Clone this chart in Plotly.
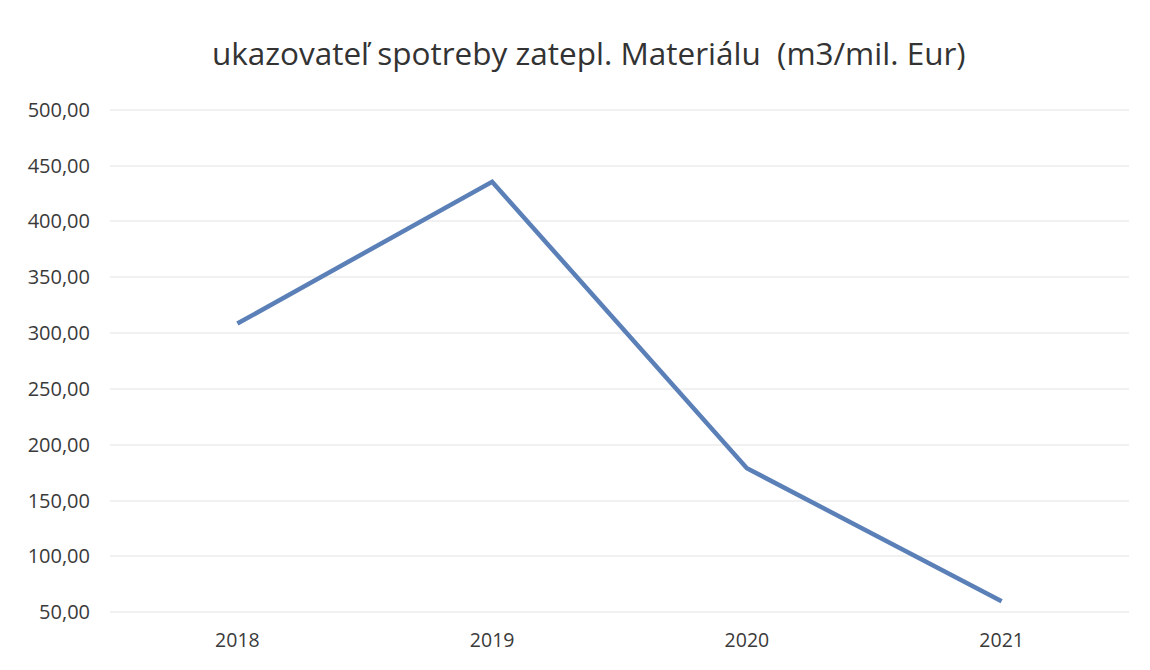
import plotly.graph_objects as go

years = ["2018", "2019", "2020", "2021"]
values = [308.5, 435.5, 179.0, 60.0]
y_ticks = [50, 100, 150, 200, 250, 300, 350, 400, 450, 500]

fig = go.Figure()
fig.add_trace(
    go.Scatter(
        x=years,
        y=values,
        mode="lines",
        line=dict(color="#5b80b8", width=4.5),
        showlegend=False,
    )
)

fig.update_layout(
    width=1150,
    height=670,
    margin=dict(l=102, r=29, t=100, b=64),
    paper_bgcolor="white",
    plot_bgcolor="white",
    separators=", ",
    font=dict(family="Open Sans, Liberation Sans, sans-serif", color="#3a3a3a"),
    title=dict(
        text="ukazovateľ spotreby zatepl. Materiálu  (m3/mil. Eur)",
        x=0.505,
        xanchor="center",
        y=0.932,
        yanchor="middle",
        font=dict(size=31.5, color="#333333"),
    ),
    xaxis=dict(
        type="category",
        range=[-0.5, 3.5],
        showgrid=False,
        showline=False,
        ticks="",
        ticklabelstandoff=12,
        tickfont=dict(size=19.5),
    ),
    yaxis=dict(
        range=[48.5, 501.5],
        tickvals=y_ticks,
        tickformat=".2f",
        showgrid=True,
        gridcolor="#f1f1f1",
        gridwidth=1.5,
        zeroline=False,
        showline=False,
        ticks="",
        ticklabelstandoff=19,
        tickfont=dict(size=20),
    ),
)

fig.write_html("out.html")
